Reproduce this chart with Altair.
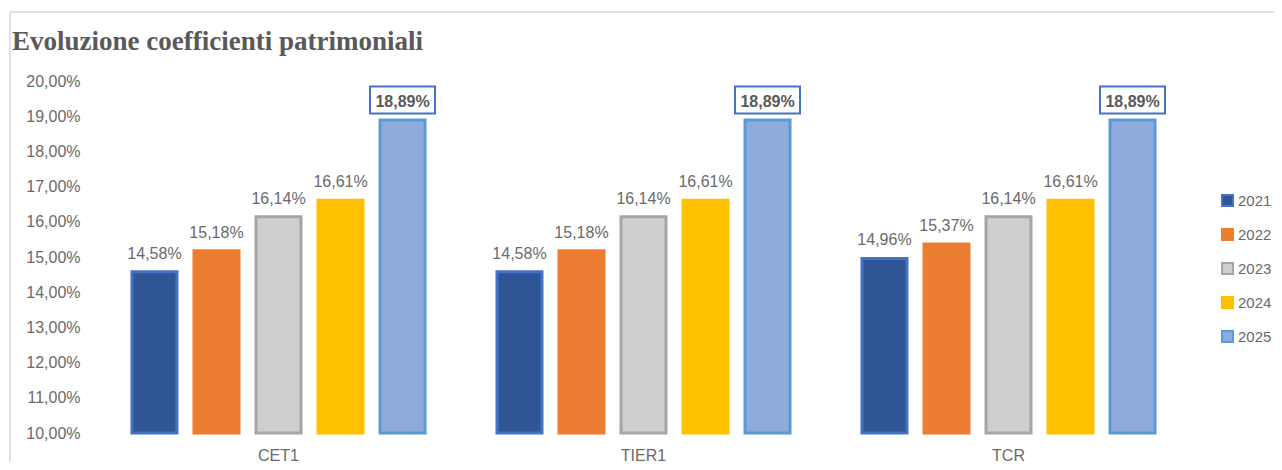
import altair as alt
import pandas as pd

title_text = "Evoluzione coefficienti patrimoniali"
categories = ["CET1", "TIER1", "TCR"]
years = ["2021", "2022", "2023", "2024", "2025"]
values_2021 = [14.58, 14.58, 14.96]
values_2022 = [15.18, 15.18, 15.37]
values_2023 = [16.14, 16.14, 16.14]
values_2024 = [16.61, 16.61, 16.61]
values_2025 = [18.89, 18.89, 18.89]
y_ticks = [10, 11, 12, 13, 14, 15, 16, 17, 18, 19, 20]
y_base = 10

fill_colors = ["#2F5597", "#ED7D31", "#D0CECE", "#FFC000", "#8FAADC"]
stroke_colors = ["#4472C4", "#ED7D31", "#A5A5A5", "#FFC000", "#5B9BD5"]

series = [values_2021, values_2022, values_2023, values_2024, values_2025]
rows = []
for yr, vals in zip(years, series):
    for cat, v in zip(categories, vals):
        rows.append({"category": cat, "year": yr, "value": v})
df = pd.DataFrame(rows)

FONT = "Liberation Sans"
TXT = "#6A6A6A"

legend = alt.Legend(
    title=None, orient="none", legendX=1124, legendY=112,
    symbolType="square", symbolSize=121, symbolStrokeWidth=2,
    labelFontSize=15, labelFont=FONT, labelColor=TXT, rowPadding=15,
    labelOffset=3,
)

base = alt.Chart(df).encode(
    x=alt.X(
        "category:N", sort=categories,
        scale=alt.Scale(paddingInner=0, paddingOuter=0),
        axis=alt.Axis(title=None, labelAngle=0, domain=False, ticks=False,
                      labelPadding=14, labelFontSize=16, labelFont=FONT,
                      labelColor=TXT, zindex=1),
    ),
    xOffset=alt.XOffset("year:N", sort=years,
                        scale=alt.Scale(paddingInner=0.274, paddingOuter=0.58)),
    y=alt.Y(
        "value:Q",
        scale=alt.Scale(domain=[10, 20], nice=False, zero=False),
        axis=alt.Axis(title=None, values=y_ticks, grid=False, domain=False,
                      ticks=False, labelPadding=16, labelFontSize=16,
                      labelFont=FONT, labelColor=TXT,
                      labelExpr="replace(format(datum.value, '.2f'), '.', ',') + '%'"),
    ),
)

label_expr = "replace(format(datum.value, '.2f'), '.', ',') + '%'"

bars = base.mark_bar(strokeWidth=3).encode(
    y2=alt.datum(y_base),
    fill=alt.Fill("year:N", sort=years,
                  scale=alt.Scale(domain=years, range=fill_colors), legend=legend),
    stroke=alt.Stroke("year:N", sort=years,
                      scale=alt.Scale(domain=years, range=stroke_colors), legend=legend),
)

labels = base.transform_filter("datum.year != '2025'").transform_calculate(
    lbl=label_expr
).mark_text(dy=-13, baseline="alphabetic", fontSize=16, font=FONT, color=TXT).encode(
    text="lbl:N"
)

box_shape = "M-1,-0.415 L1,-0.415 L1,0.415 L-1,0.415 Z"
boxes = base.transform_filter("datum.year == '2025'").mark_point(
    shape=box_shape, size=4225, filled=True, fill="white", stroke="#4472C4",
    strokeWidth=2, opacity=1, yOffset=-20,
)

labels25 = base.transform_filter("datum.year == '2025'").transform_calculate(
    lbl=label_expr
).mark_text(dy=-13, baseline="alphabetic", fontSize=16, font=FONT,
            fontWeight="bold", color="#595959").encode(text="lbl:N")

title = alt.Chart(pd.DataFrame({"t": [title_text]})).mark_text(
    align="left", baseline="alphabetic", font="Liberation Serif",
    fontWeight="bold", fontSize=27, color="#595959",
).encode(x=alt.value(-84), y=alt.value(-31), text="t:N")

frame_df = pd.DataFrame({"k": [0]})
frame_left = alt.Chart(frame_df).mark_rule(color="#D9D9D9", strokeWidth=1.5).encode(
    x=alt.value(-86), y=alt.value(-69), y2=alt.value(400)
)
frame_top = alt.Chart(frame_df).mark_rule(color="#D9D9D9", strokeWidth=1.5).encode(
    x=alt.value(-86), x2=alt.value(1200), y=alt.value(-69)
)

chart = alt.layer(frame_left, frame_top, title, bars, boxes, labels, labels25).properties(
    width=1095, height=352,
    padding={"left": 88, "top": 73, "right": 83, "bottom": 29},
    autosize=alt.AutoSizeParams(type="none"),
).configure_view(stroke=None)

chart.save("out.html", embed_options={"renderer": "svg", "actions": False})
